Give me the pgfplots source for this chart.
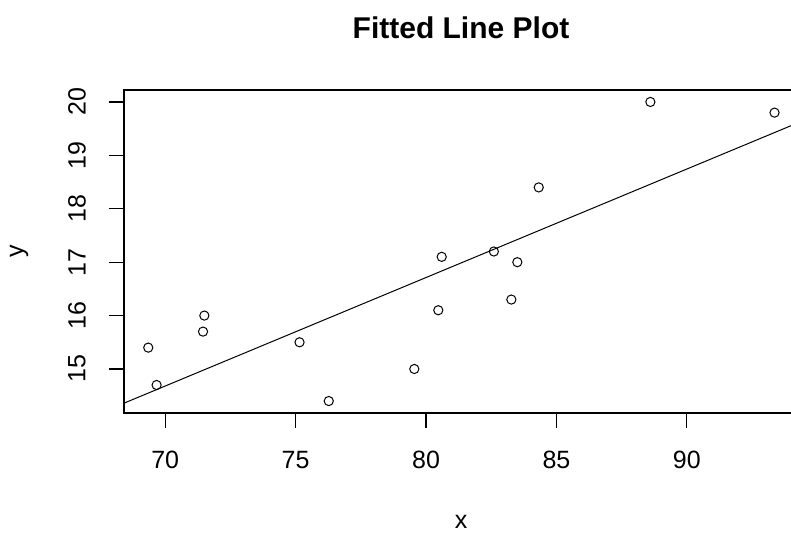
\documentclass[border=0pt]{standalone}
\usepackage{fontspec}
\setmainfont{Liberation Sans}
\usepackage{pgfplots}
\pgfplotsset{compat=1.18}

\begin{document}
\begin{tikzpicture}
\begin{axis}[
  at={(0,0)}, anchor=south west,
  scale only axis,
  width=337pt, height=161.5pt,
  xmin=68.42, xmax=94.26,
  ymin=14.176, ymax=20.224,
  xtick={70,75,80,85,90},
  ytick={15,16,17,18,19,20},
  tick align=outside,
  major tick length=7.5pt,
  xtick pos=bottom, ytick pos=left,
  axis line style={line width=0.6pt},
  every tick/.style={black, line width=0.6pt},
  /pgf/number format/assume math mode=true,
  tick label style={font=\fontsize{12.5}{15}\selectfont},
  xticklabel style={anchor=center, yshift=-16pt},
  yticklabel style={rotate=90, anchor=center, yshift=16pt},
  xlabel={x},
  label style={font=\fontsize{12.5}{15}\selectfont},
  xlabel style={at={(rel axis cs:0.5,0)}, anchor=center, yshift=-54.5pt},
  clip mode=individual,
]
% observations
\addplot[only marks, mark=o, mark size=2.3pt, line width=0.5pt] coordinates {
  (69.35,15.40) (69.67,14.70) (71.50,16.00) (71.45,15.70) (75.15,15.50)
  (76.27,14.40) (79.55,15.00) (80.47,16.10) (80.60,17.10) (82.60,17.20)
  (83.27,16.30) (83.50,17.00) (84.32,18.40) (88.60,20.00) (93.36,19.80)
};
% fitted line
\addplot[no markers, line width=0.5pt] coordinates {(68.42,14.36) (94.26,19.61)};
\node[yshift=31pt, font=\bfseries\fontsize{15}{18}\selectfont] at (rel axis cs:0.5,1) {Fitted Line Plot};
\node[xshift=-52.5pt, rotate=90, font=\fontsize{12.5}{15}\selectfont] at (rel axis cs:0,0.5) {y};
\end{axis}
\pgfresetboundingbox
\useasboundingbox (-62pt,-60.5pt) rectangle (333.5pt,206.5pt);
\end{tikzpicture}
\end{document}
